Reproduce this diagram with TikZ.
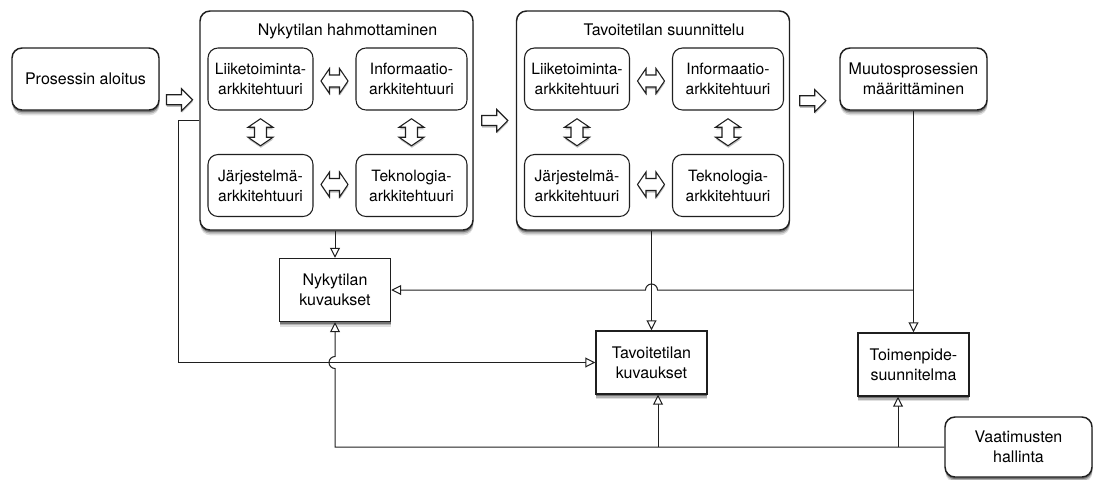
\documentclass[tikz,border=0pt]{standalone}
\usepackage{fontspec}
\setmainfont{TeX Gyre Heros}
\usetikzlibrary{arrows.meta,calc,shadows}
\newlength{\px}
\setlength{\px}{0.75pt}
\colorlet{LineDark}{black!88}
\tikzset{
  boxshadow/.style={drop shadow={shadow xshift=0.3pt, shadow yshift=-4pt, fill=black, opacity=0.12},
    drop shadow={shadow xshift=0.3pt, shadow yshift=-2.8pt, fill=black, opacity=0.2},
    drop shadow={shadow xshift=0.2pt, shadow yshift=-1.6pt, fill=black, opacity=0.35}},
  phasebox/.style={draw=LineDark, line width=1.1pt, fill=white, rounded corners=7.5pt, boxshadow,
    minimum width=147\px, minimum height=62\px, inner sep=0pt, align=center, font=\fontsize{12}{15}\selectfont},
  bigbox/.style={phasebox, minimum width=273\px, minimum height=219\px},
  inbox/.style={draw=LineDark, line width=0.8pt, fill=white, rounded corners=7.5pt,
    minimum height=62\px, inner sep=0pt, align=center, font=\fontsize{11.7}{15}\selectfont},
  docbox/.style={draw=LineDark, line width=1.1pt, fill=white, boxshadow,
    minimum width=111\px, minimum height=63\px, inner sep=0pt, align=center, font=\fontsize{12}{15}\selectfont},
  titletxt/.style={font=\fontsize{12}{15}\selectfont, inner sep=0pt, anchor=base},
  conn/.style={draw=LineDark, line width=0.75pt, -{Triangle[length=7.5pt, width=7.5pt, fill=white]}},
  blockarr/.style={draw=LineDark, line width=0.8pt, fill=white, line join=miter,
    drop shadow={shadow xshift=0.3pt, shadow yshift=-1.5pt, fill=black, opacity=0.25}},
  fwdarrow/.pic={\path[blockarr] (-13,-5) -- (2,-5) -- (2,-11) -- (13,0) -- (2,11) -- (2,5) -- (-13,5) -- cycle;},
  dblarrow/.pic={\path[blockarr] (-13.5,0) -- (-5,-12.5) -- (-5,-6) -- (5,-6) -- (5,-12.5) -- (13.5,0)
    -- (5,12.5) -- (5,6) -- (-5,6) -- (-5,12.5) -- cycle;},
}

\begin{document}
\begin{tikzpicture}[x=0.75pt, y=-0.75pt]
  \useasboundingbox (0,0) rectangle (1093,479);
  \node[phasebox] (start) at (85.5,79) {Prosessin aloitus};
  \foreach \p/\cx/\ttl in {n/336.5/Nykytilan hahmottaminen, t/653/Tavoitetilan suunnittelu} {
    \node[bigbox] (\p-big) at (\cx,120.5) {};
    \node[titletxt] (\p-title) at (\cx+11,35) {\ttl};
    \node[inbox, minimum width=105\px] (\p-lt) at (\cx-76,79) {Liiketoiminta-\\arkkitehtuuri};
    \node[inbox, minimum width=111\px] (\p-inf) at (\cx+75,79) {Informaatio-\\arkkitehtuuri};
    \node[inbox, minimum width=105\px] (\p-jar) at (\cx-76,185.5) {Järjestelmä-\\arkkitehtuuri};
    \node[inbox, minimum width=111\px] (\p-tek) at (\cx+75,185.5) {Teknologia-\\arkkitehtuuri};
    \pic at ($(\p-lt.east)!0.5!(\p-inf.west)+(0,2)$) {dblarrow};
    \pic at ($(\p-jar.east)!0.5!(\p-tek.west)+(0,-1)$) {dblarrow};
    \pic[rotate=90] at ($(\p-lt.south)!0.5!(\p-jar.north)$) {dblarrow};
    \pic[rotate=90] at ($(\p-inf.south)!0.5!(\p-tek.north)$) {dblarrow};
  }
  \node[phasebox] (muutos) at (913.5,79) {Muutosprosessien\\määrittäminen};
  \node[docbox] (nk) at (335,290) {Nykytilan\\kuvaukset};
  \node[docbox] (tk) at (651.5,362.5) {Tavoitetilan\\kuvaukset};
  \node[docbox] (tp) at (913.5,364.5) {Toimenpide-\\suunnitelma};
  \node[phasebox, minimum height=60\px] (vh) at (1018.5,447) {Vaatimusten\\hallinta};

  \pic at ($(start.east)!0.5!(n-big.west)$) {fwdarrow};
  \pic at ($(n-big.east)!0.5!(t-big.west)$) {fwdarrow};
  \pic at ($(t-big.east)!0.5!(muutos.west)+(-2,1)$) {fwdarrow};

  \draw[conn] (n-big.south -| nk.north) -- (nk.north);
  \draw[conn] (t-big.south -| tk.north) -- (tk.north);
  \draw[conn] (muutos.south) -- (tp.north);
  \coordinate (hop1) at (tk.north |- nk.east);
  \draw[conn] (muutos.south |- nk.east) -- ([xshift=6\px]hop1) arc[start angle=0, end angle=-180, radius=6] -- (nk.east);
  \draw[conn] (n-big.west) -- ++(-21,0) |- (tk.west);
  \coordinate (hop2) at (nk.south |- tk.west);
  \draw[conn] (vh.west) -- (nk.south |- vh.west) -- ([yshift=-6\px]hop2) arc[start angle=90, end angle=270, radius=6] -- (nk.south);
  \coordinate (tkin) at ([xshift=6.5\px]tk.south);
  \coordinate (tpin) at ([xshift=-15.5\px]tp.south);
  \draw[conn] (tkin |- vh.west) -- (tkin);
  \draw[conn] (tpin |- vh.west) -- (tpin);
\end{tikzpicture}
\end{document}
